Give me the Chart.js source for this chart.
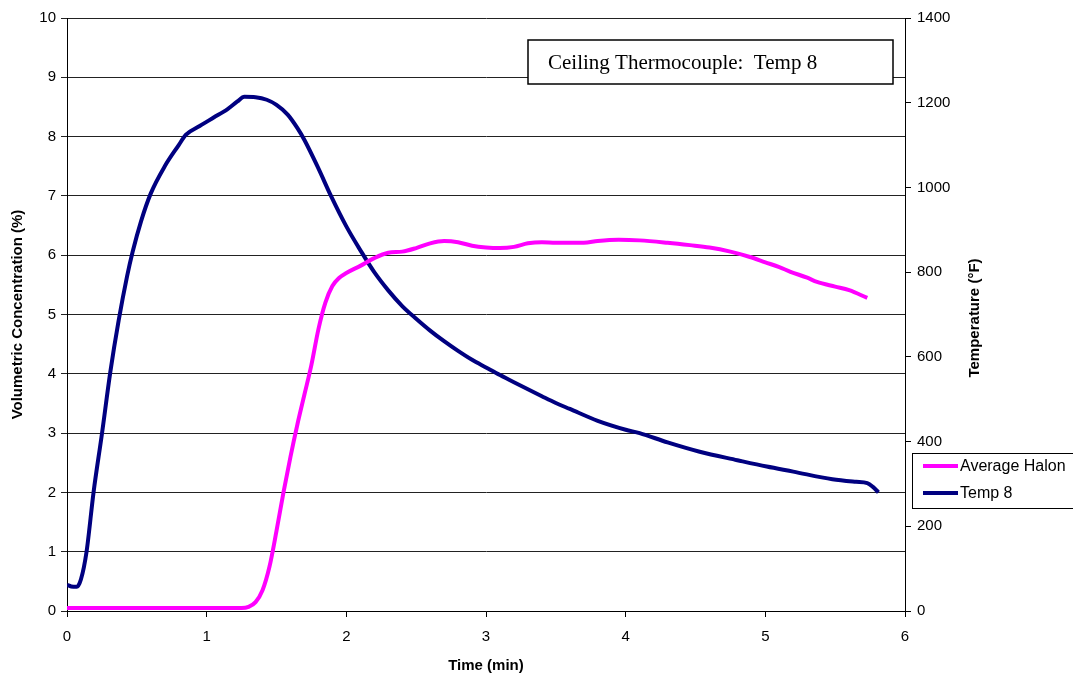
<!DOCTYPE html>
<html>
<head>
<meta charset="utf-8">
<script src="https://cdn.jsdelivr.net/npm/chart.js@4/dist/chart.umd.min.js"></script>
<style>
  html, body { margin: 0; padding: 0; background: #fff; }
  #wrap { width: 1073px; height: 677px; position: relative; }
</style>
</head>
<body>
<div id="wrap"><canvas id="chart"></canvas></div>
<script>
// Ceiling thermocouple (Temp 8) vs average halon concentration

const chartTitle = 'Ceiling Thermocouple:  Temp 8';
const timeTicks = [0, 1, 2, 3, 4, 5, 6];
const concTicks = [0, 1, 2, 3, 4, 5, 6, 7, 8, 9, 10];
const tempTicks = [0, 200, 400, 600, 800, 1000, 1200, 1400];

// Average Halon, % by volume
const halonTime = [0, 0.5, 1.0, 1.25, 1.3, 1.35, 1.4, 1.45, 1.5, 1.55, 1.6, 1.65, 1.7, 1.75, 1.8, 1.85,
  1.9, 1.95, 2.0, 2.1, 2.2, 2.3, 2.4, 2.5, 2.6, 2.7, 2.8, 2.9, 3.0, 3.1, 3.2, 3.3, 3.4, 3.5, 3.7,
  3.8, 3.95, 4.1, 4.3, 4.46, 4.6, 4.75, 4.89, 5.0, 5.1, 5.18, 5.3, 5.37, 5.5, 5.6, 5.73];
const halonPct = [0.05, 0.05, 0.05, 0.05, 0.07, 0.15, 0.35, 0.75, 1.35, 2.0, 2.6, 3.15, 3.65, 4.15, 4.75, 5.2,
  5.48, 5.62, 5.7, 5.82, 5.95, 6.04, 6.06, 6.12, 6.2, 6.24, 6.22, 6.16, 6.13, 6.12, 6.14, 6.2, 6.22, 6.21, 6.21,
  6.24, 6.26, 6.25, 6.21, 6.17, 6.13, 6.06, 5.97, 5.88, 5.8, 5.72, 5.62, 5.55, 5.47, 5.41, 5.28];

// Temp 8, deg F
const tempTime = [0, 0.03, 0.07, 0.1, 0.14, 0.19, 0.25, 0.31, 0.37, 0.43, 0.47, 0.53, 0.6, 0.7, 0.8, 0.85,
  0.95, 1.05, 1.15, 1.22, 1.27, 1.35, 1.43, 1.5, 1.58, 1.65, 1.7, 1.8, 1.89, 2.0, 2.1, 2.2, 2.3, 2.4,
  2.5, 2.6, 2.7, 2.8, 2.9, 3.0, 3.1, 3.2, 3.4, 3.5, 3.6, 3.8, 4.0, 4.1, 4.3, 4.53, 4.8, 5.01, 5.2,
  5.48, 5.65, 5.73, 5.77, 5.81];
const tempF = [62, 58, 57, 75, 140, 280, 418, 564, 686, 790, 848, 920, 986, 1050, 1100, 1124,
  1145, 1165, 1185, 1203, 1214, 1213, 1207, 1195, 1172, 1140, 1112, 1045, 980, 908, 852, 800, 757, 720,
  690, 662, 637, 614, 593, 575, 557, 540, 507, 491, 477, 449, 428, 420, 398, 376, 356, 341, 329,
  311, 305, 302, 293, 280];

const pts = (xs, ys) => xs.map((x, i) => ({ x, y: ys[i] }));
const tickFont = { family: 'Liberation Sans', size: 15 };
const titleFont = { family: 'Liberation Sans', size: 15, weight: 'bold' };

// title box, right axis title and legend box drawn on top
const extras = {
  id: 'extras',
  afterDraw(chart) {
    const ctx = chart.ctx;
    ctx.save();
    // title box
    ctx.fillStyle = '#fff';
    ctx.fillRect(528, 40, 365, 44);
    ctx.strokeStyle = '#000';
    ctx.lineWidth = 1.5;
    ctx.strokeRect(528, 40, 365, 44);
    ctx.fillStyle = '#000';
    ctx.font = '21px "Liberation Serif"';
    ctx.textBaseline = 'middle';
    ctx.textAlign = 'left';
    ctx.fillText(chartTitle, 548, 63);

    // right axis title, reads bottom to top
    ctx.save();
    ctx.translate(975, 318);
    ctx.rotate(-Math.PI / 2);
    ctx.textAlign = 'center';
    ctx.font = 'bold 15px "Liberation Sans"';
    ctx.fillText('Temperature (\u00B0F)', 0, 0);
    ctx.restore();

    // legend
    ctx.fillStyle = '#fff';
    ctx.fillRect(912, 453, 170, 55);
    ctx.lineWidth = 1;
    ctx.strokeStyle = '#000';
    ctx.strokeRect(912.5, 453.5, 170, 55);
    chart.data.datasets.forEach((ds, i) => {
      const y = 466 + i * 27;
      ctx.strokeStyle = ds.borderColor;
      ctx.lineWidth = 4;
      ctx.beginPath();
      ctx.moveTo(923, y);
      ctx.lineTo(958, y);
      ctx.stroke();
      ctx.fillStyle = '#000';
      ctx.font = '16px "Liberation Sans"';
      ctx.textAlign = 'left';
      ctx.fillText(ds.label, 960, y + 1);
    });
    ctx.restore();
  }
};

new Chart(document.getElementById('chart'), {
  type: 'line',
  data: {
    datasets: [{
      label: 'Average Halon',
      data: pts(halonTime, halonPct),
      borderColor: '#ff00ff',
      borderWidth: 4,
      pointRadius: 0,
      cubicInterpolationMode: 'monotone',
      yAxisID: 'y'
    }, {
      label: 'Temp 8',
      data: pts(tempTime, tempF),
      borderColor: '#000080',
      borderWidth: 4,
      pointRadius: 0,
      cubicInterpolationMode: 'monotone',
      yAxisID: 'y2'
    }]
  },
  options: {
    responsive: true,
    maintainAspectRatio: false,
    animation: false,
    layout: { padding: { top: 18, right: 83, left: 0, bottom: 0 } },
    plugins: { legend: { display: false }, tooltip: { enabled: false } },
    scales: {
      x: {
        type: 'linear',
        min: 0, max: 6,
        afterBuildTicks: s => { s.ticks = timeTicks.map(v => ({ value: v })); },
        afterFit: s => { s.height = 66; },
        border: { color: '#000', width: 1 },
        grid: { drawOnChartArea: false, color: '#000', tickLength: 6 },
        ticks: { color: '#000', font: tickFont, padding: 11, maxRotation: 0 },
        title: { display: true, text: 'Time (min)', color: '#000', font: titleFont, padding: { top: 0, bottom: 2 } }
      },
      y: {
        position: 'left',
        min: 0, max: 10,
        afterBuildTicks: s => { s.ticks = concTicks.map(v => ({ value: v })); },
        afterFit: s => { s.width = 67; },
        border: { color: '#000', width: 1 },
        grid: { color: '#222', tickLength: 6 },
        ticks: { color: '#000', font: tickFont, padding: 5 },
        title: { display: true, text: 'Volumetric Concentration (%)', color: '#000', font: titleFont, padding: { top: 9, bottom: 0 } }
      },
      y2: {
        position: 'right',
        min: 0, max: 1400,
        afterBuildTicks: s => { s.ticks = tempTicks.map(v => ({ value: v })); },
        afterFit: s => { s.width = 85; },
        border: { color: '#000', width: 1 },
        grid: { drawOnChartArea: false, color: '#000', tickLength: 6 },
        ticks: { color: '#000', font: tickFont, padding: 6, callback: v => String(v) }
      }
    }
  },
  plugins: [extras]
});
</script>
</body>
</html>
